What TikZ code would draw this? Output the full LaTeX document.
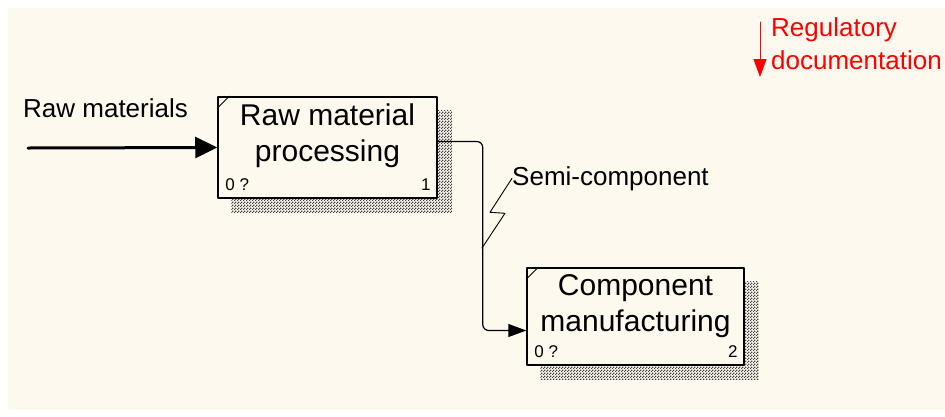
\documentclass[tikz,border=0pt]{standalone}
\usepackage{fontspec}
\setmainfont{Liberation Sans}
\usetikzlibrary{positioning,calc,patterns.meta,arrows.meta}
\definecolor{paper}{RGB}{254,249,238}
\definecolor{docred}{RGB}{255,0,0}
\pgfdeclarelayer{back}
\pgfsetlayers{back,main}
\tikzdeclarepattern{name=checks, type=uncolored,
	bounding box={(0,0) and (3pt,3pt)}, tile size={(3pt,3pt)},
	code={\pgfpathrectangle{\pgfpointorigin}{\pgfpoint{1.5pt}{1.5pt}}
		\pgfpathrectangle{\pgfpoint{1.5pt}{1.5pt}}{\pgfpoint{1.5pt}{1.5pt}}
		\pgfusepath{fill}}}

\begin{document}
\begin{tikzpicture}[x=1pt, y=-1pt, line join=round, line cap=round,
		box/.style={draw, line width=1.5pt, fill=paper, inner sep=0pt},
		boxtext/.style={align=center, inner sep=0pt, font=\fontsize{30}{36}\selectfont},
		tag/.style={inner sep=0pt, font=\fontsize{17}{17}\selectfont},
		lbl/.style={inner sep=0pt, font=\fontsize{26}{33}\selectfont},
		shade/.style={pattern=checks, pattern color=black!75},
		tip/.style={-{Triangle[length=18pt,width=13pt]}}]
	\clip (0,0) rectangle (945,416);
	% activity boxes
	\node[box, minimum width=219pt, minimum height=101pt] (p1) at (327.5,147.5) {};
	\node[box, minimum width=217pt, minimum height=97pt] (p2) at (635.5,316.5) {};
	\node[boxtext, below=7pt of p1.north] (p1t) {Raw material\\processing};
	\node[boxtext, below=7pt of p2.north] (p2t) {Component\\manufacturing};
	\foreach \b/\n in {p1/1,p2/2}{
		\node[tag, anchor=base west] (\b z) at ([shift={(8,-8)}]\b.south west) {0 ?};
		\node[tag, anchor=base east] (\b n) at ([shift={(-7,-8)}]\b.south east) {\n};
		\draw[line width=0.8pt] ([yshift=-12pt]\b.north west) -- ([xshift=12pt]\b.north west);
	}
	\begin{pgfonlayer}{back}
		\fill[white] (0,0) rectangle (945,416);
		\fill[paper] (8,8) rectangle (945,410);
		\foreach \b in {p1,p2}
			\fill[shade] ($(\b.north west)+(14,14)$) rectangle ($(\b.south east)+(14,14)$);
	\end{pgfonlayer}
	% labels
	\node[lbl, anchor=base west] (raw) at (23,117) {Raw materials};
	\node[lbl, anchor=base west] (semi) at (512,185) {Semi-component};
	\node[lbl, anchor=north west, align=left, text=docred] (reg) at (771,17) {Regulatory\\documentation};
	% arrows
	\coordinate (rawin) at (28,148);
	\draw[line width=3pt, -{Triangle[length=22pt,width=21pt]}] (rawin) -- (p1.west);
	\draw[line width=1.2pt, tip, rounded corners=6pt] ([yshift=6pt]p1.east) -- ++(45,0) |- ([yshift=-14pt]p2.west);
	\coordinate (sq) at (482,248);
	\draw[line width=0.9pt] (semi.west) -- ++(-22,34) -- ++(15,1) -- (sq);
	\coordinate (regtop) at (760,22);
	\coordinate (regend) at (760,77);
	\draw[docred, line width=1pt, tip] (regtop) -- (regend);
\end{tikzpicture}
\end{document}
